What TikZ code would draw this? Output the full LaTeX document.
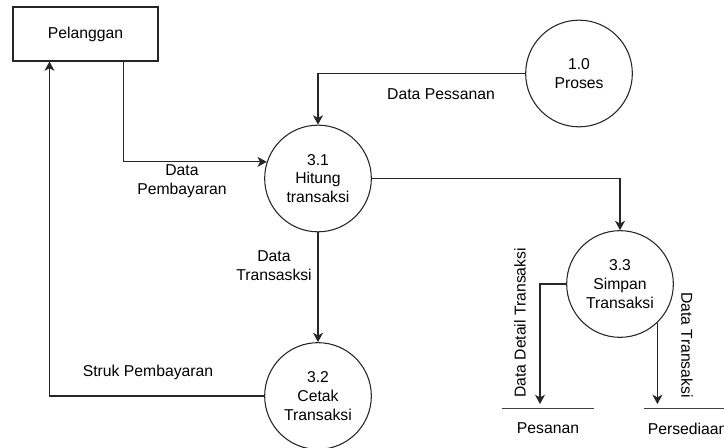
\documentclass[tikz,border=0pt]{standalone}
\usepackage{fontspec}
\setmainfont{Liberation Sans}
\usetikzlibrary{arrows.meta,calc}

\begin{document}
\begin{tikzpicture}[x=0.75pt,y=-0.75pt,
    font=\fontsize{11.8}{14}\selectfont,
    every node/.style={align=center, inner sep=0pt},
    flow/.style={draw=black!85, line width=0.8pt, -{Stealth[length=7pt,width=7.5pt,inset=2pt]}},
    proc/.style={circle, draw=black!85, line width=0.8pt, minimum size=80pt},
    entity/.style={rectangle, draw=black!85, line width=0.8pt, minimum width=108.75pt, minimum height=40.5pt},
    store/.style={minimum height=29.25pt}]
    \useasboundingbox (0,0) rectangle (724,448);
    \clip (0,0) rectangle (724,448);

    \node[entity] (pel) at (85.5,34) {Pelanggan};
    \node[proc] (p10) at (579,73.5) {1.0\\Proses};
    \node[proc] (p31) at (318,178.5) {3.1\\Hitung\\transaksi};
    \node[proc] (p32) at (318,396) {3.2\\Cetak\\Transaksi};
    \node[proc] (p33) at (620,284) {3.3\\Simpan\\Transaksi};
    \node[store, minimum width=69pt] (ps) at (548,428.5) {Pesanan};
    \node[store, minimum width=65pt, anchor=west] (sd) at (644,428.5) {Persediaan};

    \draw[black!75, line width=1pt] (ps.north west) -- (ps.north east) (ps.south west) -- (ps.south east);
    \draw[black!75, line width=1pt] (sd.north west) -- (sd.north east) (sd.south west) -- (sd.south east);

    \draw[flow] ($(pel.south east)+(-35,0)$) |- (p31.162);
    \draw[flow] (p10.west) -| (p31.north);
    \draw[flow] (p31.east) -| (p33.north);
    \draw[flow] (p31.south) -- (p32.north);
    \draw[flow] (p32.west) -| ($(pel.south west)+(37,0)$);
    \draw[flow, shorten >=3.5pt] (p33.west) -| ($(ps.north)+(-8,0)$);
    \draw[flow, shorten >=3.5pt] (p33.-46) -- (p33.-46 |- sd.north);

    \node (lpb) at (182,181) {Data\\Pembayaran};
    \node (lps) at (441,94) {Data Pessanan};
    \node (ltr) at (274,265.5) {Data\\Transasksi};
    \node (lst) at (148,372) {Struk Pembayaran};
    \node[rotate=90] (ldd) at (520,323) {Data Detail Transaksi};
    \node[rotate=-90] (ldt) at (687,345) {Data Transaksi};
\end{tikzpicture}
\end{document}
